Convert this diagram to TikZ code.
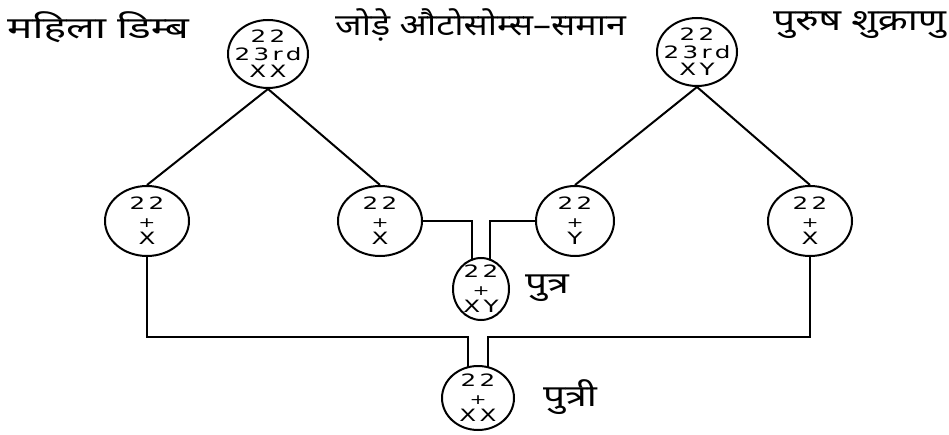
\documentclass[tikz,border=0pt]{standalone}
\usepackage{fontspec}
\newfontfamily\devfont[Script=Devanagari,FakeStretch=1.3]{Noto Sans}
\newfontfamily\chrfont[FakeStretch=1.45,LetterSpace=20]{DejaVu Sans}
\usetikzlibrary{shapes.geometric,backgrounds,calc}
\newcommand{\pls}{{\fontsize{14}{17.5}\selectfont+}}
\tikzset{
cell/.style={ellipse,draw=black,line width=2pt,fill=white,inner sep=-16pt,align=center,
font=\chrfont\fontsize{17}{17.5}\selectfont},
parent/.style={cell,minimum width=80pt,minimum height=68pt},
gamete/.style={cell,minimum width=84pt,minimum height=70pt},
child/.style={cell,minimum width=56pt,minimum height=62pt},
hlabel/.style={anchor=west,inner sep=0pt,font=\devfont\fontsize{30}{34}\selectfont},
link/.style={line width=2pt,black}
}

\begin{document}
\begin{tikzpicture}[x=1pt,y=-1pt]
\useasboundingbox (0,0) rectangle (949,435);
% parents
\node[parent] (egg) at (268,54) {22\\23rd\\XX};
\node[parent] (sperm) at (697,52) {22\\23rd\\XY};
% gametes
\node[gamete] (eggA) at (147,221) {22\\\pls\\X};
\node[gamete] (eggB) at (380,221) {22\\\pls\\X};
\node[gamete,minimum width=78pt] (spermY) at (575,221) {22\\\pls\\Y};
\node[gamete] (spermX) at (810,221) {22\\\pls\\X};
% offspring
\node[child] (son) at (481,289) {22\\\pls\\XY};
\node[child,minimum width=72pt,minimum height=64pt] (daughter) at (478,398) {22\\\pls\\XX};
% labels
\node[hlabel] (lblEgg) at (7,27) {\scalebox{1.09}[1]{महिला डिम्ब}};
\node[hlabel] (lblPair) at (335,25) {\scalebox{0.92}[1]{जोड़े औटोसोम्स–समान}};
\node[hlabel] (lblSperm) at (773,25) {पुरुष शुक्राणु};
\node[hlabel] (lblSon) at (525,288) {पुत्र};
\node[hlabel] (lblDau) at (543,397) {पुत्री};
\draw[link] (egg.south) -- (eggA.north);
\draw[link] (egg.south) -- (eggB.north);
\draw[link] (sperm.south) -- (spermY.north);
\draw[link] (sperm.south) -- (spermX.north);
\coordinate (dl) at (468,337);
\coordinate (dr) at (488,337);
\begin{scope}[on background layer]
\draw[link] (eggB.east) -| ([xshift=-9pt]son.center);
\draw[link] (spermY.west) -| ([xshift=9pt]son.center);
\draw[link] (eggA.south) |- (dl) -- (dl |- daughter.center);
\draw[link] (spermX.south) |- (dr) -- (dr |- daughter.center);
\end{scope}
\end{tikzpicture}
\end{document}
